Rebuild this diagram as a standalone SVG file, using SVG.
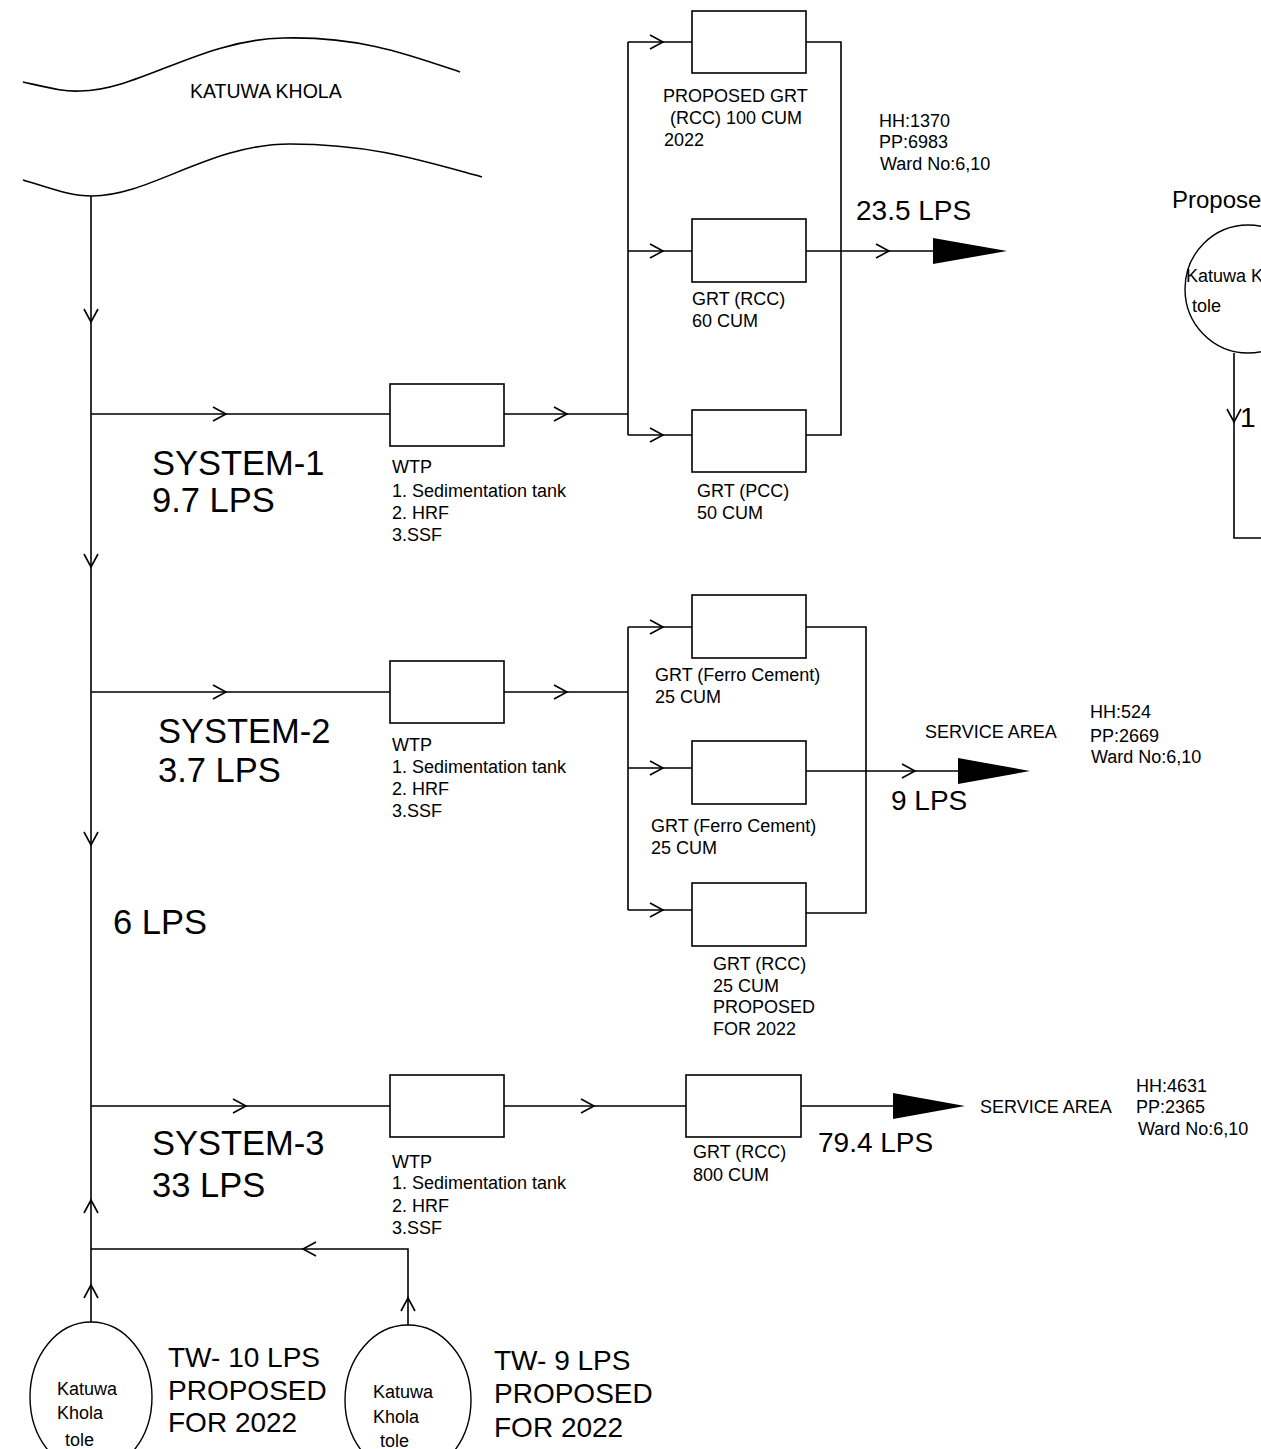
<svg xmlns="http://www.w3.org/2000/svg" width="1261" height="1449" viewBox="0 0 1261 1449">
<style>
.ln{fill:none;stroke:#000;stroke-width:1.6}
.bx{fill:#fff;stroke:#000;stroke-width:1.6}
.ci{fill:#fff;stroke:#000;stroke-width:1.4}
.tri{fill:#000;stroke:none}
text{font-family:"Liberation Sans",Arial,sans-serif;fill:#000}
.s{font-size:18px}
.m{font-size:28px}
.b{font-size:34.5px}
</style>
<rect width="1261" height="1449" fill="#fff"/>
<g id="river">
<path class="ln" d="M23,82 C50,88 65,92 80,91 C140,90 200,40 283,38 C360,36 410,55 460,72"/>
<path class="ln" d="M23,180 C50,188 70,196 92,196 C150,196 210,144 290,144 C370,144 420,160 482,177"/>
<text class="s" x="190" y="98" style="font-size:19.5px">KATUWA KHOLA</text>
</g>
<g id="connectors">
<path class="ln" d="M91,196 V1322"/>
<path class="ln" d="M84,309 L91,322 L98,309 M84,554 L91,567 L98,554 M84,832 L91,845 L98,832"/>
<path class="ln" d="M84,1213 L91,1200 L98,1213 M84,1298 L91,1285 L98,1298"/>
<path class="ln" d="M91,414 H390 M504,414 H628"/>
<path class="ln" d="M213,407 L226,414 L213,421 M554,407 L567,414 L554,421"/>
<path class="ln" d="M628,42 V435 M628,42 H692 M628,251 H692 M628,435 H692"/>
<path class="ln" d="M650,35 L663,42 L650,49 M650,244 L663,251 L650,258 M650,428 L663,435 L650,442"/>
<path class="ln" d="M806,42 H841 V435 H806 M806,251 H935"/>
<path class="ln" d="M876,244 L889,251 L876,258"/>
<path class="tri" d="M933,238 L1007,251 L933,264 Z"/>
<path class="ln" d="M91,692 H390 M504,692 H628"/>
<path class="ln" d="M213,685 L226,692 L213,699 M554,685 L567,692 L554,699"/>
<path class="ln" d="M628,627 V910 M628,627 H692 M628,768 H692 M628,910 H692"/>
<path class="ln" d="M650,620 L663,627 L650,634 M650,761 L663,768 L650,775 M650,903 L663,910 L650,917"/>
<path class="ln" d="M806,627 H866 V913 H806 M806,771 H960"/>
<path class="ln" d="M902,764 L915,771 L902,778"/>
<path class="tri" d="M958,758 L1030,771 L958,784 Z"/>
<path class="ln" d="M91,1106 H390 M504,1106 H686 M801,1106 H895"/>
<path class="ln" d="M233,1099 L246,1106 L233,1113 M581,1099 L594,1106 L581,1113"/>
<path class="tri" d="M893,1093 L965,1106 L893,1119 Z"/>
<path class="ln" d="M91,1249 H408 V1325"/>
<path class="ln" d="M316,1242 L303,1249 L316,1256 M401,1311 L408,1298 L415,1311"/>
<path class="ln" d="M1234,353 V538 H1261"/>
<path class="ln" d="M1227,409 L1234,422 L1241,409"/>
</g>
<g id="sys1-wtp">
<rect class="bx" x="390" y="384" width="114" height="62"/>
<text class="s" x="392" y="473">WTP</text>
<text class="s" x="392" y="497">1. Sedimentation tank</text>
<text class="s" x="392" y="519">2. HRF</text>
<text class="s" x="392" y="541">3.SSF</text>
</g>
<g id="sys1-label">
<text class="b" x="152" y="475">SYSTEM-1</text>
<text class="b" x="152" y="512">9.7 LPS</text>
</g>
<g id="sys1-grt1">
<rect class="bx" x="692" y="11" width="114" height="62"/>
<text class="s" x="663" y="102">PROPOSED GRT</text>
<text class="s" x="670" y="124"> (RCC) 100 CUM</text>
<text class="s" x="664" y="146">2022</text>
</g>
<g id="sys1-grt2">
<rect class="bx" x="692" y="219" width="114" height="63"/>
<text class="s" x="692" y="305">GRT (RCC)</text>
<text class="s" x="692" y="327">60 CUM</text>
</g>
<g id="sys1-grt3">
<rect class="bx" x="692" y="410" width="114" height="62"/>
<text class="s" x="697" y="497">GRT (PCC)</text>
<text class="s" x="697" y="519">50 CUM</text>
</g>
<g id="sys1-out">
<text class="s" x="879" y="127">HH:1370</text>
<text class="s" x="879" y="148">PP:6983</text>
<text class="s" x="880" y="170">Ward No:6,10</text>
<text class="m" x="856" y="220">23.5 LPS</text>
</g>
<g id="sys2-wtp">
<rect class="bx" x="390" y="661" width="114" height="62"/>
<text class="s" x="392" y="751">WTP</text>
<text class="s" x="392" y="773">1. Sedimentation tank</text>
<text class="s" x="392" y="795">2. HRF</text>
<text class="s" x="392" y="817">3.SSF</text>
</g>
<g id="sys2-label">
<text class="b" x="158" y="743">SYSTEM-2</text>
<text class="b" x="158" y="782">3.7 LPS</text>
<text class="b" x="113" y="934">6 LPS</text>
</g>
<g id="sys2-grt1">
<rect class="bx" x="692" y="595" width="114" height="63"/>
<text class="s" x="655" y="681">GRT (Ferro Cement)</text>
<text class="s" x="655" y="703">25 CUM</text>
</g>
<g id="sys2-grt2">
<rect class="bx" x="692" y="741" width="114" height="63"/>
<text class="s" x="651" y="832">GRT (Ferro Cement)</text>
<text class="s" x="651" y="854">25 CUM</text>
</g>
<g id="sys2-grt3">
<rect class="bx" x="692" y="883" width="114" height="63"/>
<text class="s" x="713" y="970">GRT (RCC)</text>
<text class="s" x="713" y="992">25 CUM</text>
<text class="s" x="713" y="1013">PROPOSED</text>
<text class="s" x="713" y="1035">FOR 2022</text>
</g>
<g id="sys2-out">
<text class="s" x="925" y="738">SERVICE AREA</text>
<text class="m" x="891" y="810">9 LPS</text>
<text class="s" x="1090" y="718">HH:524</text>
<text class="s" x="1090" y="742">PP:2669</text>
<text class="s" x="1091" y="763">Ward No:6,10</text>
</g>
<g id="sys3-wtp">
<rect class="bx" x="390" y="1075" width="114" height="62"/>
<text class="s" x="392" y="1168">WTP</text>
<text class="s" x="392" y="1189">1. Sedimentation tank</text>
<text class="s" x="392" y="1212">2. HRF</text>
<text class="s" x="392" y="1234">3.SSF</text>
</g>
<g id="sys3-label">
<text class="b" x="152" y="1155">SYSTEM-3</text>
<text class="b" x="152" y="1197">33 LPS</text>
</g>
<g id="sys3-grt">
<rect class="bx" x="686" y="1075" width="115" height="62"/>
<text class="s" x="693" y="1158">GRT (RCC)</text>
<text class="s" x="693" y="1181">800 CUM</text>
</g>
<g id="sys3-out">
<text class="m" x="818" y="1152">79.4 LPS</text>
<text class="s" x="980" y="1113">SERVICE AREA</text>
<text class="s" x="1136" y="1092">HH:4631</text>
<text class="s" x="1136" y="1113">PP:2365</text>
<text class="s" x="1138" y="1135">Ward No:6,10</text>
</g>
<g id="tw1">
<ellipse class="ci" cx="91" cy="1397" rx="61" ry="75"/>
<text class="s" x="57" y="1395">Katuwa</text>
<text class="s" x="57" y="1419">Khola</text>
<text class="s" x="65" y="1446">tole</text>
<text class="m" x="168" y="1367">TW- 10 LPS</text>
<text class="m" x="168" y="1400">PROPOSED</text>
<text class="m" x="168" y="1432">FOR 2022</text>
</g>
<g id="tw2">
<ellipse class="ci" cx="408" cy="1400" rx="63" ry="75"/>
<text class="s" x="373" y="1398">Katuwa</text>
<text class="s" x="373" y="1423">Khola</text>
<text class="s" x="380" y="1447">tole</text>
<text class="m" x="494" y="1370">TW- 9 LPS</text>
<text class="m" x="494" y="1403">PROPOSED</text>
<text class="m" x="494" y="1437">FOR 2022</text>
</g>
<g id="proposed-right">
<text class="m" x="1172" y="208" style="font-size:24px">Proposed</text>
<ellipse class="ci" cx="1248" cy="289" rx="63" ry="64"/>
<text class="s" x="1186" y="282">Katuwa Khola</text>
<text class="s" x="1192" y="312">tole</text>
<text class="m" x="1240" y="427">1</text>
</g>
</svg>
